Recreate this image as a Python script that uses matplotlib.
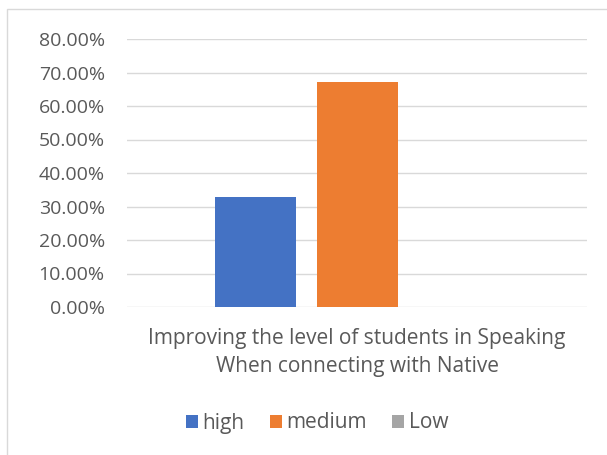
import matplotlib
matplotlib.use("Agg")
import matplotlib.pyplot as plt
from matplotlib.patches import Rectangle, Patch

# ── Data ─────────────────────────────────────────────────────────────────────
CATEGORY = "Improving the level of students in Speaking\nWhen connecting with Native"
SERIES   = ["high", "medium", "Low"]
VALUES   = [32.8, 67.2, 0.0]
COLORS   = ["#4472C4", "#ED7D31", "#A5A5A5"]
YTICKS   = [0, 10, 20, 30, 40, 50, 60, 70, 80]

plt.rcParams['font.family'] = ['Open Sans', 'DejaVu Sans']

fig = plt.figure(figsize=(6.07, 4.55), dpi=100)

# chart border (Excel chart area)
fig.patches.append(Rectangle((7 / 607, -0.01), 1.0, 1 - 9 / 455 + 0.01,
                             transform=fig.transFigure, fill=False,
                             edgecolor="#d9d9d9", linewidth=1.0))

ax = fig.add_axes([127 / 607, 1 - 307 / 455, 460 / 607, 268 / 455])

W = 81 / 460
STEP = 102 / 460
offsets = [-STEP, 0, STEP]
for off, val, col in zip(offsets, VALUES, COLORS):
    ax.bar(off, val, width=W, color=col, zorder=3)

ax.set_xlim(-0.5, 0.5)
ax.set_ylim(0, 80)
ax.set_yticks(YTICKS)
ax.set_yticklabels([f"{v:.2f}%" for v in YTICKS], fontsize=14, color="#595959")
ax.set_xticks([0])
ax.set_xticklabels([CATEGORY], fontsize=15, color="#595959", linespacing=1.45)
ax.tick_params(axis="both", length=0)
ax.tick_params(axis="y", pad=16)
ax.tick_params(axis="x", pad=15)
ax.grid(axis="y", color="#d9d9d9", linewidth=1.0, zorder=0)
for s in ax.spines.values():
    s.set_visible(False)

handles = [Patch(facecolor=c, edgecolor="none") for c in COLORS]
leg = fig.legend(handles, SERIES, loc="center", bbox_to_anchor=(317 / 607, 1 - 423 / 455),
                 ncol=3, frameon=False, fontsize=15, handlelength=0.6, handleheight=0.6,
                 handletextpad=0.2, columnspacing=1.2)
for t in leg.get_texts():
    t.set_color("#595959")

fig.savefig("out.png", dpi=100)
